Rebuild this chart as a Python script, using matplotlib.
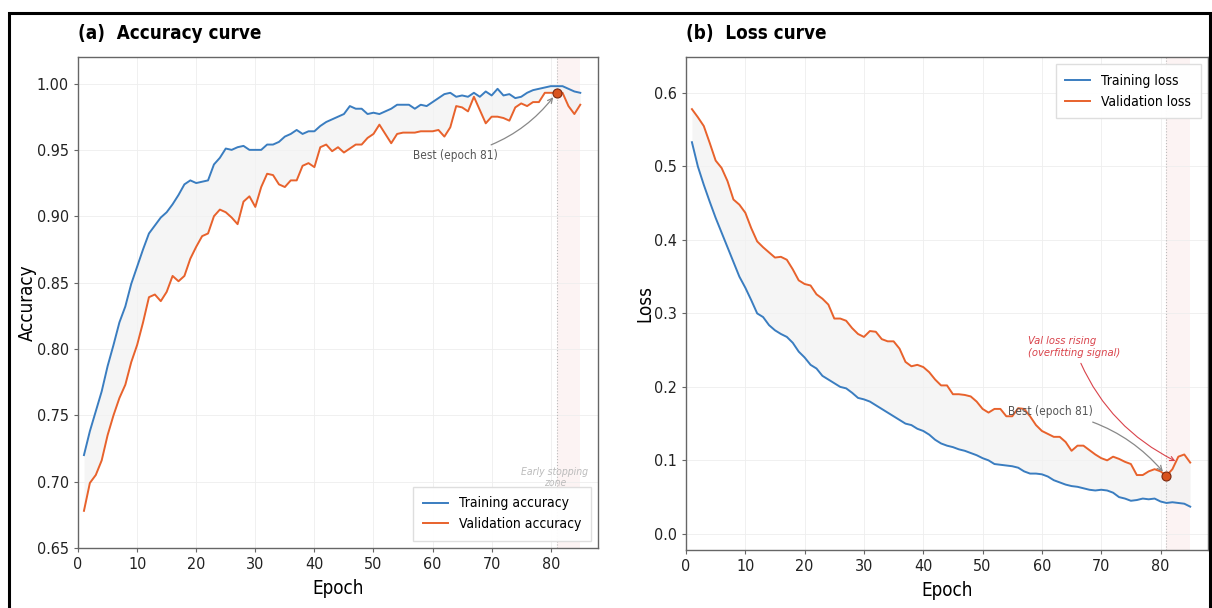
import matplotlib
matplotlib.use('Agg')
import matplotlib.pyplot as plt
from matplotlib.patches import Rectangle
import numpy as np

plt.rcParams['font.family'] = ['DejaVu Sans']
plt.rcParams['font.stretch'] = 'condensed'

epochs = np.arange(1, 86)

train_acc = [0.720, 0.738, 0.753, 0.768, 0.787, 0.803, 0.820, 0.832, 0.849, 0.862,
             0.875, 0.887, 0.893, 0.899, 0.903, 0.909, 0.916, 0.924, 0.927, 0.925,
             0.926, 0.927, 0.939, 0.944, 0.951, 0.950, 0.952, 0.953, 0.950, 0.950,
             0.950, 0.954, 0.954, 0.956, 0.960, 0.962, 0.965, 0.962, 0.964, 0.964,
             0.968, 0.971, 0.973, 0.975, 0.977, 0.983, 0.981, 0.981, 0.977, 0.978,
             0.977, 0.979, 0.981, 0.984, 0.984, 0.984, 0.981, 0.984, 0.983, 0.986,
             0.989, 0.992, 0.993, 0.990, 0.991, 0.990, 0.993, 0.990, 0.994, 0.991,
             0.996, 0.991, 0.992, 0.989, 0.990, 0.993, 0.995, 0.996, 0.997, 0.998,
             0.998, 0.998, 0.996, 0.994, 0.993]
val_acc = [0.678, 0.699, 0.705, 0.716, 0.735, 0.750, 0.763, 0.773, 0.790, 0.803,
           0.820, 0.839, 0.841, 0.836, 0.843, 0.855, 0.851, 0.855, 0.868, 0.877,
           0.885, 0.887, 0.900, 0.905, 0.903, 0.899, 0.894, 0.911, 0.915, 0.907,
           0.922, 0.932, 0.931, 0.924, 0.922, 0.927, 0.927, 0.938, 0.940, 0.937,
           0.952, 0.954, 0.949, 0.952, 0.948, 0.951, 0.954, 0.954, 0.959, 0.962,
           0.969, 0.962, 0.955, 0.962, 0.963, 0.963, 0.963, 0.964, 0.964, 0.964,
           0.965, 0.960, 0.967, 0.983, 0.982, 0.979, 0.990, 0.980, 0.970, 0.975,
           0.975, 0.974, 0.972, 0.982, 0.985, 0.983, 0.986, 0.986, 0.993, 0.993,
           0.993, 0.993, 0.983, 0.977, 0.984]

train_loss = [0.533, 0.500, 0.475, 0.452, 0.430, 0.410, 0.390, 0.370, 0.350, 0.335,
              0.318, 0.300, 0.295, 0.284, 0.277, 0.272, 0.268, 0.260, 0.248, 0.240,
              0.230, 0.225, 0.215, 0.210, 0.205, 0.200, 0.198, 0.192, 0.185, 0.183,
              0.180, 0.175, 0.170, 0.165, 0.160, 0.155, 0.150, 0.148, 0.143, 0.140,
              0.135, 0.128, 0.123, 0.120, 0.118, 0.115, 0.113, 0.110, 0.107, 0.103,
              0.100, 0.095, 0.094, 0.093, 0.092, 0.090, 0.085, 0.082, 0.082, 0.081,
              0.078, 0.073, 0.070, 0.067, 0.065, 0.064, 0.062, 0.060, 0.059, 0.060,
              0.059, 0.056, 0.050, 0.048, 0.045, 0.046, 0.048, 0.047, 0.048, 0.044,
              0.042, 0.043, 0.042, 0.041, 0.037]
val_loss = [0.578, 0.567, 0.555, 0.532, 0.508, 0.498, 0.480, 0.455, 0.448, 0.437,
            0.416, 0.398, 0.390, 0.383, 0.376, 0.377, 0.373, 0.360, 0.345, 0.340,
            0.338, 0.326, 0.320, 0.312, 0.293, 0.293, 0.290, 0.280, 0.272, 0.268,
            0.276, 0.275, 0.265, 0.262, 0.262, 0.252, 0.234, 0.228, 0.230, 0.227,
            0.220, 0.210, 0.202, 0.202, 0.190, 0.190, 0.189, 0.187, 0.180, 0.170,
            0.165, 0.170, 0.170, 0.160, 0.160, 0.171, 0.170, 0.160, 0.148, 0.140,
            0.136, 0.132, 0.132, 0.125, 0.113, 0.120, 0.120, 0.114, 0.108, 0.103,
            0.100, 0.105, 0.102, 0.098, 0.095, 0.080, 0.080, 0.085, 0.088, 0.085,
            0.079, 0.088, 0.105, 0.108, 0.097]

best_epoch = 81
stop_end = 85

blue = '#3a7dc0'
orange = '#e8622c'
spine_c = '#666666'

fig = plt.figure(figsize=(12.12, 6.08), dpi=100)
ax1 = fig.add_axes([0.0644, 0.0987, 0.429, 0.8076])
ax2 = fig.add_axes([0.566, 0.0954, 0.4307, 0.8109])

def style(ax):
    for s in ax.spines.values():
        s.set_color(spine_c)
        s.set_linewidth(1.0)
    ax.tick_params(direction='out', length=3, width=0.8, color=spine_c,
                   labelsize=11.5, labelcolor='#222222')
    ax.grid(True, color='#eeeeee', lw=0.6)
    ax.set_axisbelow(True)
    ax.set_xlim(0, 88)
    ax.set_xticks(range(0, 90, 10))
    ax.axvspan(best_epoch, stop_end, color='#f6d8d8', alpha=0.3, lw=0, zorder=0)
    ax.axvline(best_epoch, color='#bbbbbb', ls=':', lw=0.8, zorder=1)
    ax.set_xlabel('Epoch', fontsize=13.5, labelpad=5)

# (a) accuracy
ax1.fill_between(epochs, val_acc, train_acc, color='#f2f2f2', alpha=0.7, lw=0)
ax1.plot(epochs, train_acc, color=blue, lw=1.4, label='Training accuracy')
ax1.plot(epochs, val_acc, color=orange, lw=1.4, label='Validation accuracy')
ax1.plot(best_epoch, val_acc[best_epoch - 1], 'o', color='#d9531e', mec='#7a2a10',
         mew=0.8, ms=6.5, zorder=5)
ax1.annotate('Best (epoch 81)', xy=(best_epoch, val_acc[best_epoch - 1]),
             xytext=(63.8, 0.946), ha='center', va='center', fontsize=8.5, color='#555555',
             arrowprops=dict(arrowstyle='->', color='#888888', lw=0.9,
                             connectionstyle='arc3,rad=0.2', shrinkB=4))
ax1.text(80.7, 0.703, 'Early stopping\nzone', ha='center', va='center', fontsize=7.5,
         style='italic', color='#bbbbbb', zorder=2)
style(ax1)
ax1.set_ylim(0.65, 1.02)
ax1.set_yticks(np.arange(0.65, 1.001, 0.05))
ax1.set_ylabel('Accuracy', fontsize=13.5, labelpad=0)
leg1 = ax1.legend(loc='lower right', fontsize=10, fancybox=False, framealpha=0.95,
                  edgecolor='#dddddd', borderpad=0.7, handlelength=1.8)
leg1.set_zorder(10)
ax1.set_title('(a)  Accuracy curve', loc='left', fontsize=13.5, fontweight='bold', pad=13)

# (b) loss
ax2.fill_between(epochs, train_loss, val_loss, color='#f2f2f2', alpha=0.7, lw=0)
ax2.plot(epochs, train_loss, color=blue, lw=1.4, label='Training loss')
ax2.plot(epochs, val_loss, color=orange, lw=1.4, label='Validation loss')
ax2.plot(best_epoch, val_loss[best_epoch - 1], 'o', color='#d9531e', mec='#7a2a10',
         mew=0.8, ms=6.5, zorder=5)
ax2.annotate('Best (epoch 81)', xy=(best_epoch, val_loss[best_epoch - 1]),
             xytext=(61.4, 0.166), ha='center', va='center', fontsize=8.5, color='#555555',
             arrowprops=dict(arrowstyle='->', color='#888888', lw=0.9,
                             connectionstyle='arc3,rad=-0.2', shrinkB=4))
ax2.annotate('Val loss rising\n(overfitting signal)', xy=(82.5, 0.099),
             xytext=(57.7, 0.254), ha='left', va='center', fontsize=8,
             style='italic', color='#d9434b',
             arrowprops=dict(arrowstyle='->', color='#d9434b', lw=0.8,
                             connectionstyle='arc3,rad=0.2', shrinkA=2, shrinkB=0))
style(ax2)
ax2.set_ylim(-0.022, 0.649)
ax2.set_yticks(np.arange(0.0, 0.61, 0.1))
ax2.set_ylabel('Loss', fontsize=13.5, labelpad=0)
leg2 = ax2.legend(loc='upper right', fontsize=10, fancybox=False, framealpha=0.95,
                  edgecolor='#dddddd', borderpad=0.7, handlelength=1.8)
ax2.set_title('(b)  Loss curve', loc='left', fontsize=13.5, fontweight='bold', pad=13)

# outer frame
fig.patches.append(Rectangle((0.0074, -0.05), 0.9906, 1.0286, transform=fig.transFigure,
                             fill=False, edgecolor='black', lw=2.2))

plt.savefig('out.png', dpi=100)
